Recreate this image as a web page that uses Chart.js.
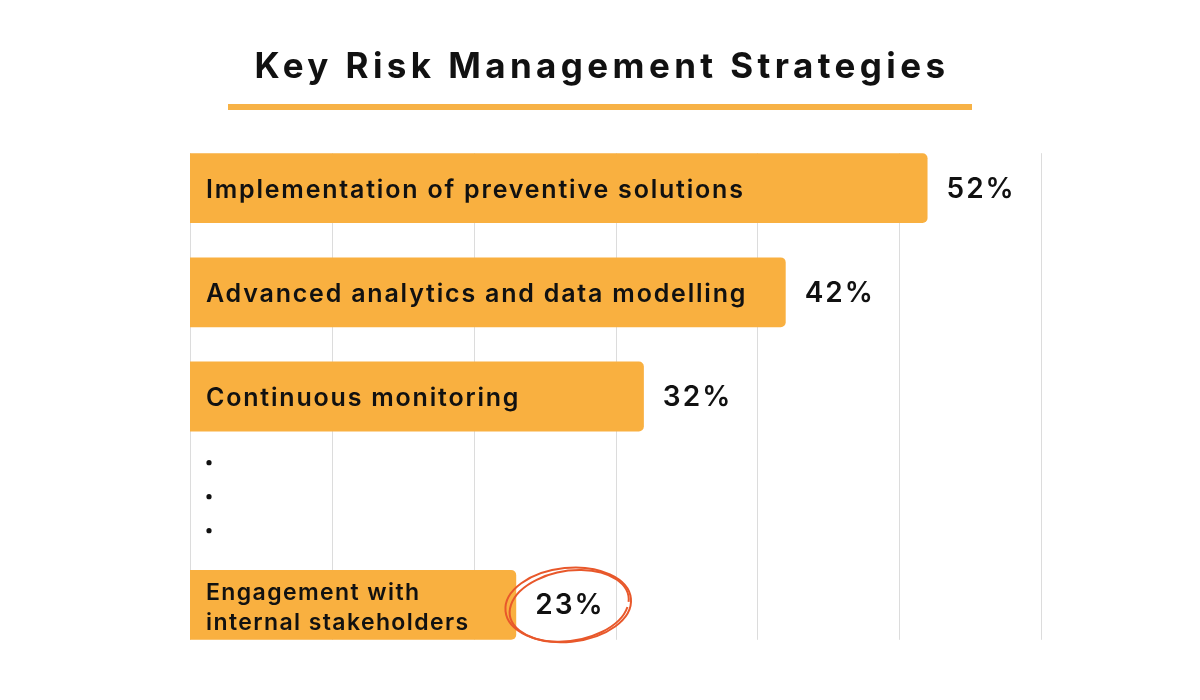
<!DOCTYPE html>
<html>
<head>
<meta charset="utf-8">
<script src="https://cdn.jsdelivr.net/npm/chart.js@4/dist/chart.umd.min.js"></script>
<style>
  html, body { margin: 0; padding: 0; background: #fff; }
  #wrap { width: 1200px; height: 700px; }
</style>
</head>
<body>
<div id="wrap"><canvas id="risk"></canvas></div>
<script>
const categories = [
  "Implementation of preventive solutions",
  "Advanced analytics and data modelling",
  "Continuous monitoring",
  "",
  ["Engagement with", "internal stakeholders"],
];
const shares = [52, 42, 32, null, 23];
const xTicks = [0, 10, 20, 30, 40, 50, 60];
const titleText = "Key Risk Management Strategies";
const highlightIndex = 4;
const gapIndex = 3;

const ORANGE = "rgb(249, 176, 64)";
const FONT = "Inter, 'Noto Sans', sans-serif";

// title + underline, and grid lines only as tall as the bars
const backdrop = {
  id: "backdrop",
  beforeDatasetsDraw(chart) {
    const ctx = chart.ctx;
    const x = chart.scales.x;
    const bars = chart.getDatasetMeta(0).data;
    const top = bars[0].y - bars[0].height / 2;
    const last = bars[bars.length - 1];
    const bottom = last.y + last.height / 2;
    ctx.save();
    ctx.strokeStyle = "#dcdcdc";
    ctx.lineWidth = 1;
    xTicks.forEach((t) => {
      const px = Math.round(x.getPixelForValue(t)) + 0.5;
      ctx.beginPath();
      ctx.moveTo(px, top);
      ctx.lineTo(px, bottom);
      ctx.stroke();
    });
    ctx.restore();
  },
  afterDraw(chart) {
    const ctx = chart.ctx;
    ctx.save();
    ctx.fillStyle = "#111";
    ctx.font = "700 35px " + FONT;
    ctx.letterSpacing = "4.4px";
    ctx.textAlign = "center";
    ctx.textBaseline = "alphabetic";
    ctx.fillText(titleText, 602, 78);
    ctx.fillStyle = "#f7b246";
    ctx.fillRect(228, 104, 744, 6);
    ctx.restore();
  },
};

const barText = {
  id: "barText",
  afterDatasetsDraw(chart) {
    const ctx = chart.ctx;
    const y = chart.scales.y;
    const bars = chart.getDatasetMeta(0).data;
    ctx.save();
    ctx.fillStyle = "#111";
    ctx.textBaseline = "alphabetic";
    ctx.textAlign = "left";
    bars.forEach((bar, i) => {
      const v = shares[i];
      if (v == null) return;
      const lab = categories[i];
      if (Array.isArray(lab)) {
        ctx.font = "600 23px " + FONT;
        ctx.letterSpacing = "1.4px";
        ctx.fillText(lab[0], 206, bar.y - 5);
        ctx.fillText(lab[1], 206, bar.y + 25);
      } else {
        ctx.font = "600 25px " + FONT;
        ctx.letterSpacing = "1.8px";
        ctx.fillText(lab, 206, bar.y + 9.5);
      }
      ctx.font = "600 28px " + FONT;
      ctx.letterSpacing = "2px";
      ctx.fillText(v + "%", bar.x + 19, bar.y + 9.5);
    });
    ctx.letterSpacing = "0px";

    // the three dots standing in for skipped rows
    const cy = y.getPixelForValue(gapIndex);
    [-34, 0, 34].forEach((d) => {
      ctx.beginPath();
      ctx.arc(209, cy - 4 + d, 2.6, 0, Math.PI * 2);
      ctx.fill();
    });

    // hand-drawn ring around the highlighted value
    const hb = bars[highlightIndex];
    const cx = hb.x + 52;
    const hy = hb.y;
    ctx.strokeStyle = "#e8582b";
    ctx.lineWidth = 2;
    ctx.beginPath();
    ctx.ellipse(cx, hy, 63, 37, -0.1, 0, Math.PI * 2);
    ctx.stroke();
    ctx.beginPath();
    ctx.ellipse(cx + 1, hy + 1, 60, 35, -0.16, 0.3, Math.PI * 2.05);
    ctx.stroke();
    ctx.restore();
  },
};

const config = {
  type: "bar",
  data: {
    labels: categories,
    datasets: [
      {
        data: shares,
        backgroundColor: ORANGE,
        borderRadius: 5,
        borderSkipped: "start",
        categoryPercentage: 1,
        barPercentage: 0.67,
      },
    ],
  },
  options: {
    indexAxis: "y",
    responsive: true,
    maintainAspectRatio: false,
    animation: false,
    layout: {
      padding: { left: 190, right: 159, top: 136, bottom: 43 },
    },
    scales: {
      x: { display: false, min: 0, max: 60 },
      y: { display: false, offset: true },
    },
    plugins: {
      legend: { display: false },
      tooltip: { enabled: false },
      title: { display: false },
    },
  },
  plugins: [backdrop, barText],
};

const riskChart = new Chart(document.getElementById("risk"), config);
</script>
</body>
</html>
